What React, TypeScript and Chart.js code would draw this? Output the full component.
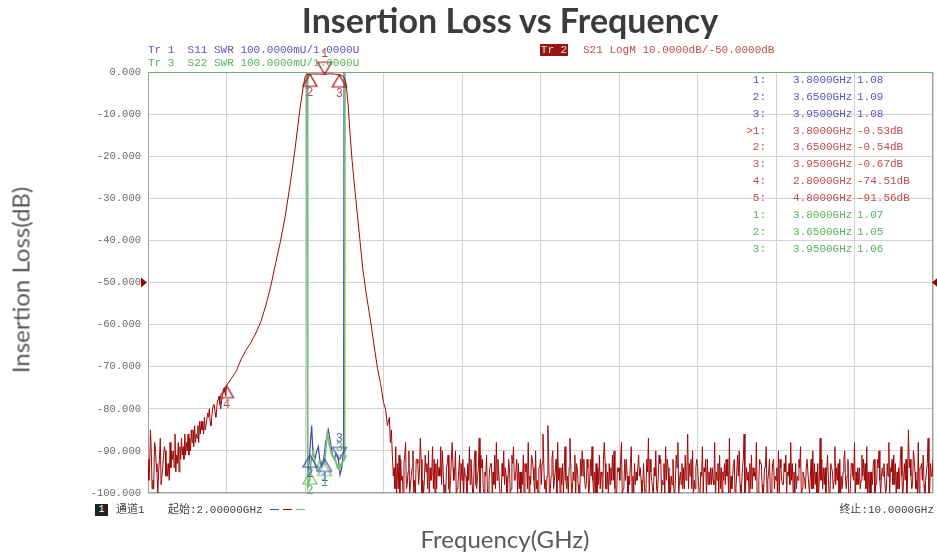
import React, { useEffect, useRef } from "react";
import { Chart, registerables } from "chart.js";
Chart.register(...registerables);

// ---------- axis ----------
const FREQ_MIN = 2.0;
const FREQ_MAX = 10.0;
const FREQ_GRID_STEP = 0.8;
const DB_MIN = -100;
const DB_MAX = 0;
const DB_STEP = 10;
const SWR_MIN = 1.0;
const SWR_MAX = 2.0;
const REF_LEVEL_DB = -50;

// ---------- S21 (LogM, dB) ----------
// low-frequency noise: three interleaved sweeps, each with points every 0.025 GHz
const s21LowNoiseStart = 2.0;
const s21LowNoiseStep = 0.025;
const s21LowNoiseA = [
  -92, -85, -97, -89, -100, -87, -94, -90, -96, -88, -92, -86, -93, -89, -91, -86,
  -90, -87, -88, -84, -87, -83, -85, -82, -84, -80, -82, -79, -80, -77, -78, -75,
];
const s21LowNoiseB = [
  -97, -90, -99, -93, -95, -98, -91, -96, -93, -94, -90, -95, -88, -92, -89, -91,
  -86, -90, -85, -88, -84, -86, -83, -85, -81, -83, -80, -81, -78, -79, -77, -76,
];
const s21LowNoiseC = [
  -94, -99, -88, -95, -92, -98, -89, -93, -97, -90, -94, -91, -95, -87, -92, -88,
  -91, -85, -89, -86, -88, -83, -86, -84, -82, -84, -79, -82, -78, -80, -76, -77,
];
// filter skirts and passband
const s21BandFreq = [
  2.8, 2.85, 2.9, 2.95, 3.0, 3.05, 3.1, 3.15, 3.2, 3.25, 3.3, 3.35, 3.4, 3.45, 3.5, 3.55,
  3.58, 3.6, 3.62, 3.65, 3.7, 3.75, 3.8, 3.85, 3.9, 3.95, 3.98, 4.0, 4.02, 4.04, 4.06, 4.08,
  4.1, 4.13, 4.16, 4.19, 4.22, 4.25, 4.28, 4.31, 4.34, 4.37, 4.4, 4.42, 4.44, 4.46, 4.47, 4.48, 4.49,
];
const s21BandDb = [
  -74.5, -72.8, -71, -68.2, -66, -64.2, -62, -59.3, -55.5, -51, -45.5, -40.2, -34, -26.5, -18, -8.5,
  -3.8, -1.2, -0.6, -0.54, -0.45, -0.5, -0.53, -0.42, -0.5, -0.67, -0.85, -1.4, -3, -8, -15, -21,
  -26, -33, -40, -47, -52, -56.5, -61, -66, -70.5, -74, -78.5, -80, -84, -82, -88, -85, -91,
];
// high-frequency noise floor: three interleaved sweeps, each with points every 0.025 GHz
const s21HighNoiseStart = 4.5;
const s21HighNoiseStep = 0.025;
const s21HighNoiseA = [
  -96, -89, -99, -92, -101, -88, -95, -98, -90, -100,
  -93, -87, -97, -91, -99, -94, -89, -101, -92, -96,
  -90, -98, -93, -100, -88, -95, -99, -91, -97, -94,
  -101, -89, -96, -92, -99, -87, -94, -100, -91, -97,
  -93, -98, -88, -95, -101, -90, -96, -92, -99, -89,
  -97, -93, -100, -91, -95, -88, -98, -94, -90, -101,
  -92, -86, -97, -84, -99, -90, -95, -88, -100, -93,
  -89, -96, -87, -99, -91, -94, -101, -90, -97, -92,
  -98, -89, -95, -100, -91, -96, -88, -99, -93, -97,
  -90, -101, -94, -88, -98, -92, -96, -89, -100, -95,
  -91, -97, -93, -99, -87, -95, -101, -90, -96, -92,
  -98, -89, -94, -100, -92, -97, -88, -95, -99, -91,
  -86, -96, -90, -99, -93, -101, -89, -95, -92, -98,
  -94, -88, -97, -91, -100, -93, -96, -87, -99, -92,
  -95, -90, -98, -86, -94, -100, -91, -96, -88, -97,
  -93, -99, -89, -95, -101, -92, -97, -90, -94, -98,
  -91, -96, -88, -100, -93, -97, -89, -95, -99, -92,
  -96, -90, -98, -93, -87, -99, -94, -91, -100, -95,
  -89, -97, -92, -99, -90, -96, -101, -93, -88, -98,
  -94, -91, -97, -89, -100, -95, -92, -98, -90, -96,
  -93, -99, -88, -95, -91, -101, -94, -89, -97, -92,
  -85, -96, -90, -99, -88, -94, -91, -97, -87, -93, -92,
];
const s21HighNoiseB = [
  -94, -100, -91, -97, -93, -99, -90, -96, -101, -92,
  -98, -92, -100, -95, -90, -97, -99, -93, -96, -89,
  -95, -101, -91, -97, -94, -90, -98, -100, -92, -96,
  -93, -98, -100, -90, -96, -101, -92, -95, -99, -94,
  -100, -91, -97, -99, -93, -98, -101, -94, -91, -97,
  -92, -99, -95, -101, -93, -100, -91, -97, -99, -94,
  -98, -93, -101, -91, -96, -99, -92, -97, -94, -100,
  -97, -100, -93, -95, -101, -98, -92, -96, -99, -94,
  -92, -97, -100, -94, -99, -101, -93, -95, -98, -91,
  -99, -94, -97, -101, -92, -96, -98, -100, -93, -97,
  -96, -100, -98, -92, -101, -97, -94, -99, -91, -100,
  -93, -97, -100, -96, -99, -91, -101, -98, -94, -97,
  -99, -92, -101, -94, -97, -95, -100, -92, -98, -94,
  -97, -101, -93, -99, -95, -98, -92, -100, -96, -101,
  -91, -98, -94, -100, -97, -93, -99, -95, -101, -92,
  -98, -94, -100, -92, -96, -99, -94, -101, -97, -93,
  -100, -93, -97, -95, -99, -92, -101, -96, -94, -98,
  -92, -99, -95, -101, -97, -94, -100, -96, -93, -99,
  -98, -93, -100, -95, -97, -92, -99, -96, -101, -94,
  -99, -96, -93, -100, -95, -98, -101, -92, -97, -94,
  -97, -93, -100, -92, -98, -95, -99, -96, -93, -100,
  -94, -99, -92, -97, -101, -93, -98, -95, -100, -96,
];
const s21HighNoiseC = [
  -99, -93, -101, -96, -91, -98, -100, -94, -97, -92,
  -95, -100, -97, -93, -101, -96, -92, -99, -94, -98,
  -101, -94, -99, -92, -97, -100, -95, -93, -101, -96,
  -97, -92, -100, -98, -94, -91, -99, -96, -101, -93,
  -95, -99, -92, -101, -96, -94, -98, -100, -93, -97,
  -100, -95, -98, -93, -99, -96, -92, -101, -97, -94,
  -93, -99, -96, -101, -92, -97, -100, -94, -98, -95,
  -99, -94, -101, -97, -93, -100, -96, -92, -98, -101,
  -96, -100, -93, -98, -95, -92, -99, -101, -94, -97,
  -101, -95, -92, -99, -97, -100, -93, -96, -98, -94,
  -94, -98, -101, -95, -92, -99, -96, -100, -93, -97,
  -100, -92, -96, -98, -101, -94, -97, -93, -99, -95,
  -93, -99, -97, -92, -100, -96, -94, -101, -95, -98,
  -98, -95, -100, -94, -97, -92, -101, -96, -93, -99,
  -96, -101, -92, -98, -95, -99, -94, -97, -100, -93,
  -101, -94, -97, -99, -93, -96, -100, -92, -98, -95,
  -95, -98, -93, -101, -96, -94, -99, -97, -92, -100,
  -99, -93, -100, -96, -92, -98, -95, -101, -94, -97,
  -94, -100, -96, -92, -99, -101, -93, -97, -95, -98,
  -97, -92, -99, -95, -101, -93, -98, -94, -100, -96,
  -100, -96, -94, -98, -93, -99, -92, -101, -97, -95,
  -92, -98, -95, -100, -94, -97, -101, -93, -99, -96,
];

// ---------- S11 (SWR) ----------
const s11Freq = [
  2.0, 3.62, 3.626, 3.645, 3.655, 3.668, 3.68, 3.7, 3.72, 3.736, 3.75, 3.77, 3.79, 3.81,
  3.838, 3.86, 3.88, 3.9, 3.916, 3.94, 3.957, 3.975, 3.993, 3.998, 10.0,
];
const s11Swr = [
  2.0, 2.0, 1.04, 1.08, 1.12, 1.16, 1.1, 1.08, 1.1, 1.11, 1.08, 1.063, 1.08, 1.12,
  1.15, 1.12, 1.09, 1.08, 1.094, 1.08, 1.043, 1.06, 1.1, 2.0, 2.0,
];

// ---------- S22 (SWR) ----------
const s22Freq = [
  2.0, 3.624, 3.628, 3.645, 3.65, 3.665, 3.685, 3.7, 3.72, 3.745, 3.77, 3.8, 3.828, 3.85,
  3.875, 3.906, 3.93, 3.95, 3.97, 4.004, 4.008, 10.0,
];
const s22Swr = [
  2.0, 2.0, 1.015, 1.03, 1.05, 1.08, 1.1, 1.07, 1.055, 1.075, 1.075, 1.07, 1.142, 1.11,
  1.09, 1.082, 1.06, 1.055, 1.07, 1.08, 2.0, 2.0,
];

// ---------- markers ----------
const s21MarkerNo = ["1", "2", "3", "4", "5"];
const s21MarkerFreq = [3.8, 3.65, 3.95, 2.8, 4.8];
const s21MarkerVal = [-0.53, -0.54, -0.67, -74.51, -91.56];
const s21MarkerText = ["-0.53dB", "-0.54dB", "-0.67dB", "-74.51dB", "-91.56dB"];
const s11MarkerNo = ["1", "2", "3"];
const s11MarkerFreq = [3.8, 3.65, 3.95];
const s11MarkerVal = [1.08, 1.09, 1.08];
const s22MarkerNo = ["1", "2", "3"];
const s22MarkerFreq = [3.8, 3.65, 3.95];
const s22MarkerVal = [1.07, 1.05, 1.06];

const C_RED = "rgb(158,8,8)";
const C_RED_TXT = "rgb(190,75,75)";
const C_BLUE = "rgb(70,70,175)";
const C_BLUE_TXT = "rgb(85,85,185)";
const C_GREEN = "rgb(110,195,110)";
const C_GREEN_TXT = "rgb(90,175,90)";

const MONO = "'Liberation Mono', 'Noto Sans CJK SC', monospace";

function pts(fr: number[], v: number[]) {
  return fr.map((f, i) => ({ x: f, y: v[i] }));
}
function sweep(start: number, step: number, v: number[]) {
  return v.map((y, i) => ({ x: +(start + i * step).toFixed(5), y }));
}

function tri(color: string, down: boolean) {
  const c = document.createElement("canvas");
  c.width = 18;
  c.height = 28;
  const g = c.getContext("2d")!;
  g.strokeStyle = color;
  g.lineWidth = 1.2;
  g.beginPath();
  if (!down) {
    g.moveTo(9, 14);
    g.lineTo(2, 26);
    g.lineTo(16, 26);
  } else {
    g.moveTo(9, 14);
    g.lineTo(2, 2);
    g.lineTo(16, 2);
  }
  g.closePath();
  g.stroke();
  return c;
}

const labelPlugin = {
  id: "markerLabels",
  beforeDatasetsDraw(chart: any) {
    const { ctx, chartArea: a } = chart;
    ctx.save();
    ctx.strokeStyle = "#a0a0a0";
    ctx.lineWidth = 1;
    ctx.strokeRect(a.left + 0.5, a.top + 0.5, a.right - a.left - 1, a.bottom - a.top - 1);
    ctx.restore();
  },
  afterDatasetsDraw(chart: any) {
    const { ctx } = chart;
    ctx.save();
    ctx.font = "12px 'Liberation Mono', monospace";
    ctx.textAlign = "center";
    ctx.textBaseline = "middle";
    chart.data.datasets.forEach((ds: any, di: number) => {
      if (!ds.markerLabels) return;
      const meta = chart.getDatasetMeta(di);
      meta.data.forEach((el: any, i: number) => {
        const down = ds.markerDown[i];
        ctx.fillStyle = ds.labelColor;
        ctx.fillText(ds.markerLabels[i], el.x, down ? el.y - 20 : el.y + 19);
      });
    });
    // reference level arrows
    const y = chart.scales.y.getPixelForValue(REF_LEVEL_DB);
    const a = chart.chartArea;
    ctx.fillStyle = "rgb(150,0,0)";
    ctx.beginPath();
    ctx.moveTo(a.left - 1, y);
    ctx.lineTo(a.left - 7, y - 5);
    ctx.lineTo(a.left - 7, y + 5);
    ctx.closePath();
    ctx.fill();
    ctx.beginPath();
    ctx.moveTo(a.right - 1, y);
    ctx.lineTo(a.right + 5, y - 5);
    ctx.lineTo(a.right + 5, y + 5);
    ctx.closePath();
    ctx.fill();
    ctx.restore();
  },
};

export default function App() {
  const ref = useRef<HTMLCanvasElement>(null);
  useEffect(() => {
    const third = s21HighNoiseStep / 3;
    const s21Data = [
      ...sweep(s21LowNoiseStart, s21LowNoiseStep, s21LowNoiseA),
      ...sweep(s21LowNoiseStart + third, s21LowNoiseStep, s21LowNoiseB),
      ...sweep(s21LowNoiseStart + 2 * third, s21LowNoiseStep, s21LowNoiseC),
      ...pts(s21BandFreq, s21BandDb),
      ...sweep(s21HighNoiseStart, s21HighNoiseStep, s21HighNoiseA),
      ...sweep(s21HighNoiseStart + third, s21HighNoiseStep, s21HighNoiseB),
      ...sweep(s21HighNoiseStart + 2 * third, s21HighNoiseStep, s21HighNoiseC),
    ]
      .filter((p) => p.x <= FREQ_MAX)
      .sort((p, q) => p.x - q.x);
    const upR = tri(C_RED, false), dnR = tri(C_RED, true);
    const upB = tri(C_BLUE, false), dnB = tri(C_BLUE, true);
    const upG = tri(C_GREEN, false), dnG = tri(C_GREEN, true);
    const s21Down = [true, false, false, false, false];
    const s21Shown = [true, true, true, true, false];
    const swrDown = [false, false, true];
    const chart = new Chart(ref.current!, {
      type: "line",
      data: {
        datasets: [
          {
            label: "S21 markers",
            data: pts(s21MarkerFreq, s21MarkerVal).filter((_, i) => s21Shown[i]),
            yAxisID: "y",
            showLine: false,
            pointStyle: s21Down.filter((_, i) => s21Shown[i]).map((d) => (d ? dnR : upR)) as any,
            pointRadius: 8,
            clip: false,
            order: 0,
            markerLabels: s21MarkerNo.filter((_, i) => s21Shown[i]),
            markerDown: s21Down.filter((_, i) => s21Shown[i]),
            labelColor: C_RED_TXT,
          } as any,
          {
            label: "S11 markers",
            data: pts(s11MarkerFreq, s11MarkerVal),
            yAxisID: "ySWR",
            showLine: false,
            pointStyle: swrDown.map((d) => (d ? dnB : upB)) as any,
            pointRadius: 8,
            clip: false,
            order: 0,
            markerLabels: s11MarkerNo,
            markerDown: swrDown,
            labelColor: C_BLUE_TXT,
          } as any,
          {
            label: "S22 markers",
            data: pts(s22MarkerFreq, s22MarkerVal),
            yAxisID: "ySWR",
            showLine: false,
            pointStyle: swrDown.map((d) => (d ? dnG : upG)) as any,
            pointRadius: 8,
            clip: false,
            order: 0,
            markerLabels: s22MarkerNo,
            markerDown: swrDown,
            labelColor: C_GREEN_TXT,
          } as any,
          {
            label: "S21",
            data: s21Data,
            yAxisID: "y",
            borderColor: C_RED,
            borderWidth: 1,
            pointRadius: 0,
            order: 1,
          },
          {
            label: "S22",
            data: pts(s22Freq, s22Swr),
            yAxisID: "ySWR",
            borderColor: C_GREEN,
            borderWidth: 1.6,
            pointRadius: 0,
            order: 2,
          },
          {
            label: "S11",
            data: pts(s11Freq, s11Swr),
            yAxisID: "ySWR",
            borderColor: C_BLUE,
            borderWidth: 1.2,
            pointRadius: 0,
            order: 3,
          },
        ],
      },
      options: {
        animation: false,
        responsive: false,
        maintainAspectRatio: false,
        events: [],
        layout: { autoPadding: false, padding: { top: 72, right: 4, left: 0, bottom: 0 } },
        plugins: { legend: { display: false }, tooltip: { enabled: false }, title: { display: false } },
        elements: { line: { tension: 0 } },
        scales: {
          x: {
            type: "linear",
            min: FREQ_MIN,
            max: FREQ_MAX,
            ticks: { display: false, stepSize: FREQ_GRID_STEP },
            grid: { color: "#d2d2d2", drawTicks: false },
            border: { display: false },
            afterFit: (s: any) => {
              s.height = 64;
            },
          },
          y: {
            min: DB_MIN,
            max: DB_MAX,
            ticks: {
              stepSize: DB_STEP,
              padding: 7,
              color: "#6a6a6a",
              font: { family: "'Liberation Mono', monospace", size: 10.5 },
              callback: (v: any) => Number(v).toFixed(3),
            },
            grid: { color: "#d2d2d2", drawTicks: false },
            border: { display: false },
            afterFit: (s: any) => {
              s.width = 148;
            },
          },
          ySWR: { display: false, min: SWR_MIN, max: SWR_MAX },
        },
      } as any,
      plugins: [labelPlugin],
    });
    return () => chart.destroy();
  }, []);

  const tableRows: { no: string; f: string; v: string; c: string }[] = [
    ...s11MarkerNo.map((n, i) => ({ no: n + ":", f: s11MarkerFreq[i].toFixed(4) + "GHz", v: s11MarkerVal[i].toFixed(2), c: C_BLUE_TXT })),
    ...s21MarkerNo.map((n, i) => ({ no: (i === 0 ? ">" : "") + n + ":", f: s21MarkerFreq[i].toFixed(4) + "GHz", v: s21MarkerText[i], c: C_RED_TXT })),
    ...s22MarkerNo.map((n, i) => ({ no: n + ":", f: s22MarkerFreq[i].toFixed(4) + "GHz", v: s22MarkerVal[i].toFixed(2), c: C_GREEN_TXT })),
  ];

  const abs = (o: any) => ({ position: "absolute" as const, whiteSpace: "pre" as const, ...o });

  return (
    <div style={{ position: "fixed", left: 0, top: 0, width: 937, height: 557, background: "#fff", overflow: "hidden" }}>
      <canvas ref={ref} width={937} height={557} style={{ position: "absolute", left: 0, top: 0, width: 937, height: 557 }} />
      <div style={abs({ left: 210, top: 0, width: 600, textAlign: "center", font: "bold 34px Lato, sans-serif", color: "#3b3b3b", lineHeight: "40px" })}>
        Insertion Loss vs Frequency
      </div>
      <div style={abs({ left: 20, top: 280, transform: "translate(-50%,-50%) rotate(-90deg)", font: "24px Lato, sans-serif", color: "#5a5a5a" })}>
        Insertion Loss(dB)
      </div>
      <div style={abs({ left: 505, top: 538, transform: "translate(-50%,-50%)", font: "24px Lato, sans-serif", color: "#5a5a5a" })}>
        Frequency(GHz)
      </div>
      <div style={abs({ left: 148, top: 44, font: `11px ${MONO}`, lineHeight: "12px", color: C_BLUE_TXT })}>{"Tr 1  S11 SWR 100.0000mU/1.0000U"}</div>
      <div style={abs({ left: 148, top: 57, font: `11px ${MONO}`, lineHeight: "12px", color: C_GREEN_TXT })}>{"Tr 3  S22 SWR 100.0000mU/1.0000U"}</div>
      <div style={abs({ left: 540, top: 44, width: 28, height: 12, background: "rgb(150,20,20)", color: "#f4dada", font: `11px ${MONO}`, lineHeight: "12px", textAlign: "center" })}>Tr 2</div>
      <div style={abs({ left: 583, top: 44, font: `11px ${MONO}`, lineHeight: "12px", color: C_RED_TXT })}>S21 LogM 10.0000dB/-50.0000dB</div>
      {tableRows.map((r, i) => (
        <div key={i} style={abs({ left: 0, top: 80 + i * 16.85 - 7, height: 14, width: 937, font: `11px ${MONO}`, lineHeight: "14px", color: r.c })}>
          <span style={abs({ right: 937 - 766, top: 0 })}>{r.no}</span>
          <span style={abs({ left: 793, top: 0 })}>{r.f}</span>
          <span style={abs({ left: 857, top: 0 })}>{r.v}</span>
        </div>
      ))}
      <div style={abs({ left: 95, top: 504, width: 13, height: 12, background: "#222", color: "#fff", font: `10px ${MONO}`, lineHeight: "12px", textAlign: "center" })}>1</div>
      <div style={abs({ left: 116, top: 503, font: `11px ${MONO}`, lineHeight: "14px", color: "#444" })}>通道1</div>
      <div style={abs({ left: 168, top: 503, font: `11px ${MONO}`, lineHeight: "14px", color: "#444" })}>起始:2.00000GHz</div>
      <div style={abs({ left: 270, top: 509, width: 9, height: 1, background: C_BLUE })} />
      <div style={abs({ left: 283, top: 509, width: 9, height: 1, background: C_RED })} />
      <div style={abs({ left: 296, top: 509, width: 9, height: 1, background: C_GREEN })} />
      <div style={abs({ right: 3, top: 503, font: `11px ${MONO}`, lineHeight: "14px", color: "#444" })}>终止:10.0000GHz</div>
    </div>
  );
}
